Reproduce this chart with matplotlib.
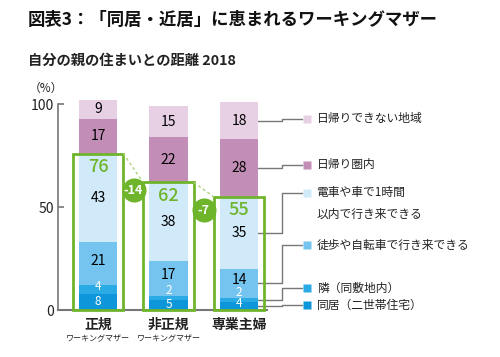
import numpy as np
import matplotlib.pyplot as plt
from matplotlib.patches import Rectangle

plt.rcParams['font.family'] = ['Noto Sans CJK JP', 'DejaVu Sans']

# data (%)
categories = ['正規', '非正規', '専業主婦']
sub_labels = ['ワーキングマザー', 'ワーキングマザー', '']
series = ['同居（二世帯住宅）', '隣（同敷地内）', '徒歩や自転車で行き来できる',
          '電車や車で1時間\n以内で行き来できる', '日帰り圏内', '日帰りできない地域']
dokyo = [8, 5, 4]
tonari = [4, 2, 2]
toho = [21, 17, 14]
densha = [43, 38, 35]
higaeri = [17, 22, 28]
higaeri_no = [9, 15, 18]
kinkyo = [76, 62, 55]
diffs = ['-14', '-7']

colors = ['#0e96da', '#2aabe6', '#74c4ef', '#d0eaf9', '#c28db6', '#e8d0e4']
label_colors = ['white', 'white', 'black', 'black', 'black', 'black']
green = '#6fb52c'
gray = '#777777'

fig = plt.figure(figsize=(5, 3.57), dpi=100)
ax = fig.add_axes([58/500, 1-310/357, (267-58)/500, 216/357])
ax.set_xlim(-0.567, 2.397)
ax.set_ylim(0, 105)

x = np.arange(len(categories))
stack = np.array([dokyo, tonari, toho, densha, higaeri, higaeri_no])
bottoms = np.vstack([np.zeros(3), np.cumsum(stack, axis=0)[:-1]])
bw = 0.54

for k in range(len(stack)):
    ax.bar(x, stack[k], bw, bottom=bottoms[k], color=colors[k], zorder=2)
    for i in range(3):
        v = stack[k][i]
        y = bottoms[k][i] + v/2
        if v < 5:
            y += (5 - v) * 1.2
        if k == 2:
            y += 1.5
        fs = 8.5 if k < 2 else 10
        ax.text(x[i], y, str(v), ha='center', va='center', fontsize=fs,
                color=label_colors[k], zorder=4)

# green boxes for 同居・近居 total
bx = 0.36
for i in range(3):
    ax.add_patch(Rectangle((x[i]-bx, 0), 2*bx, kinkyo[i], fill=False,
                           edgecolor=green, lw=2, zorder=3, clip_on=False))
    ax.text(x[i], kinkyo[i]-6.5, str(kinkyo[i]), ha='center', va='center',
            fontsize=13, color=green, fontweight='medium', zorder=4)
for i in range(2):
    ax.plot([x[i]+bx, x[i+1]-bx], [kinkyo[i], kinkyo[i+1]], ls=(0, (2, 2)),
            color='#a8d27a', lw=1, zorder=3)

circ_pos = [(0.504, 58.3), (1.50, 48.6)]
for (cx, cy), d in zip(circ_pos, diffs):
    ax.scatter([cx], [cy], s=300, color=green, linewidths=0, zorder=5, clip_on=False)
    ax.text(cx, cy, d, ha='center', va='center', color='white', fontsize=9,
            fontweight='bold', zorder=6)

# legend with leader lines from the 専業主婦 bar
leg_y = [2.4, 10.7, 31.6, 56.9, 70.5, 92.9]
x0, xe, x1 = x[2] + bw/2, 2.61, 2.89
for k in range(len(stack)):
    ym = bottoms[k][2] + stack[k][2]/2
    ax.plot([x0, xe, xe, x1], [ym, ym, leg_y[k], leg_y[k]], color=gray, lw=1,
            zorder=1, clip_on=False)
    ax.plot([2.96], [leg_y[k]], marker='s', ms=6, color=colors[k], mec='none',
            clip_on=False)
    for j, line in enumerate(series[k].split('\n')):
        ax.text(3.10, leg_y[k] - j*10.2, line, ha='left', va='center',
                fontsize=8.5, color='#222222', clip_on=False)

# category labels
for i in range(3):
    ax.text(x[i], -7.3, categories[i], ha='center', va='center', fontsize=10,
            fontweight='bold', color='#222222', clip_on=False)
    if sub_labels[i]:
        ax.text(x[i], -14.1, sub_labels[i], ha='center', va='center', fontsize=5.8,
                color='#222222', clip_on=False)

for s in ['top', 'right']:
    ax.spines[s].set_visible(False)
ax.spines['left'].set_bounds(0, 100)
ax.spines['left'].set_color(gray)
ax.spines['left'].set_linewidth(1.2)
ax.spines['bottom'].set_color(gray)
ax.spines['bottom'].set_linewidth(1.5)
ax.spines['bottom'].set_zorder(1)
ax.set_xticks([])
ax.set_yticks([0, 50, 100])
ax.tick_params(axis='y', direction='in', length=4, width=1.2, color=gray, pad=3,
               labelsize=10, labelcolor='#222222')

fig.text(28/500, 1-20/357, '図表3：「同居・近居」に恵まれるワーキングマザー',
         fontsize=12.5, fontweight='bold', va='center', color='#111111')
fig.text(28/500, 1-61/357, '自分の親の住まいとの距離 2018', fontsize=10.3,
         fontweight='bold', va='center', color='#222222')
fig.text(29/500, 1-88/357, '（%）', fontsize=8.5, va='center', color='#222222')

fig.savefig('out.png', dpi=100)
